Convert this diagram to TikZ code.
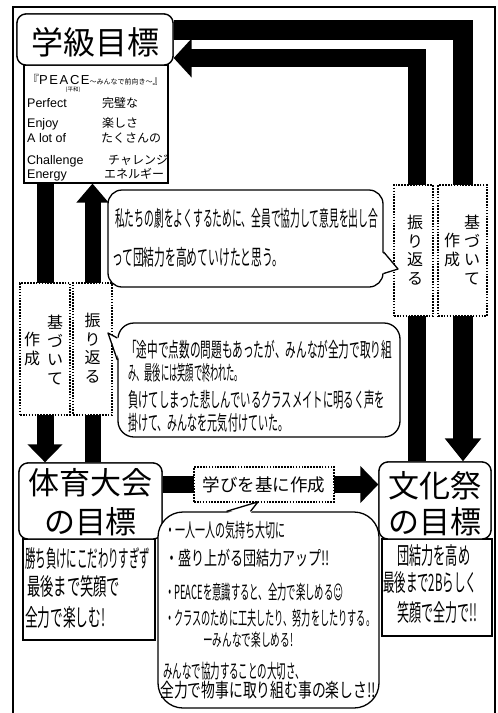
\documentclass[tikz,border=0pt]{standalone}
\usepackage{graphicx}
\usepackage{fontspec}
\setmainfont{Liberation Sans}
\newfontfamily\jp{Noto Sans CJK JP}
\newfontfamily\dejavu{DejaVu Sans}
\usetikzlibrary{arrows.meta,calc}
\newcommand\hw[6]{\node[anchor=west,inner sep=0pt] (#1) at (#2,#3) {\resizebox*{#4pt}{#5pt}{\jp #6}};}
\tikzset{
  bar/.style={line width=#1, draw=black, line cap=butt, line join=miter},
  frame/.style={draw=black, line width=1.5pt},
  titlebox/.style={draw=black, line width=1.3pt, fill=white, rounded corners=9pt, inner sep=0pt},
  plainbox/.style={draw=black, line width=1.1pt, fill=white, inner sep=0pt},
  dotbox/.style={draw=black, line width=1.7pt, dash pattern=on 1.6pt off 1.3pt, fill=white, inner sep=0pt},
  bubble/.style={draw=black, line width=1.3pt, fill=white, inner sep=0pt},
  bigtitle/.style={inner sep=0pt, font=\jp\fontsize{31}{31}\selectfont},
  vtext/.style={inner sep=0pt, align=center, font=\jp\fontsize{16}{18.5}\selectfont},
  engtext/.style={anchor=base west, inner sep=0pt, font=\fontsize{12.5}{12.5}\selectfont},
  jptext/.style={anchor=base west, inner sep=0pt, font=\jp\fontsize{12}{12}\selectfont},
}
\begin{document}
\begin{tikzpicture}[x=1pt,y=-1pt]
\useasboundingbox (0,0) rectangle (498,713);
\fill[white] (0,0) rectangle (498,713);
% outer frame
\draw[frame] (13,713) -- (13,7) -- (495,7) -- (495,713);

% boxes (shapes first, to get anchors)
\node[plainbox, minimum width=144pt, minimum height=118pt] (peace) at (96,124) {};
\node[titlebox, minimum width=156pt, minimum height=51pt] (kyu) at (95,39.5) {};
\node[plainbox, minimum width=132pt, minimum height=101pt] (taiikutxt) at (89,589.5) {};
\node[plainbox, minimum width=110pt, minimum height=97pt] (bunkatxt) at (437,587.5) {};
\node[titlebox, minimum width=143pt, minimum height=76pt] (taiiku) at (90.5,501) {};
\node[titlebox, minimum width=112pt, minimum height=77pt] (bunka) at (435,500.5) {};

% coordinates for arrow corners
\coordinate (oc) at (463,30);
\coordinate (ic) at (417,58);
\coordinate (ld) at (45,300);
\coordinate (lu) at (92.5,300);
\coordinate (hc) at (270,484.5);

% thick arrows
\draw[bar=20pt, -{Triangle[length=23pt,width=35pt]}] (kyu.east |- oc) -- (oc) -- (bunka.north -| oc);
\draw[bar=18pt, -{Triangle[length=18pt,width=38pt]}] (bunka.north -| ic) -- (ic) -- (kyu.east |- ic);
\draw[bar=17pt, -{Triangle[length=18pt,width=34pt]}] (peace.south -| ld) -- (taiiku.north -| ld);
\draw[bar=16pt, -{Triangle[length=19pt,width=31pt]}] (taiiku.north -| lu) -- (peace.south -| lu);
\draw[bar=17pt, -{Triangle[length=18pt,width=36pt]}] (taiiku.east |- hc) -- (bunka.west |- hc);

% redraw boxes over arrow ends
\node[titlebox, minimum width=156pt, minimum height=51pt] (kyu2) at (kyu) {};
\node[titlebox, minimum width=143pt, minimum height=76pt] (taiiku2) at (taiiku) {};
\node[titlebox, minimum width=112pt, minimum height=77pt] (bunka2) at (bunka) {};

% titles
\node[inner sep=0pt, font=\jp\fontsize{32}{32}\selectfont] (kyut) at (95,42) {学級目標};
\node[bigtitle] (taiikut1) at (90.5,483) {体育大会};
\node[bigtitle] (taiikut2) at (90.5,522) {の目標};
\node[bigtitle] (bunkat1) at (435,486) {文化祭};
\node[bigtitle] (bunkat2) at (435,522) {の目標};

% PEACE box content
\node[anchor=base west, inner sep=0pt] (ptitle) at (27,84) {{\jp\fontsize{12}{12}\selectfont 『}{\fontsize{13}{13}\selectfont P\hspace{1.6pt}E\hspace{1.6pt}A\hspace{1.6pt}C\hspace{1.6pt}E}{\jp\fontsize{7}{7}\selectfont ～みんなで前向き～}{\jp\fontsize{11}{11}\selectfont 』}};
\node[inner sep=0pt, font=\jp\fontsize{5.5}{5.5}\selectfont] (heiwa) at (73,89.5) {(平和)};
\node[engtext] (e1) at (27,107.5) {Perfect};
\node[engtext] (e2) at (27,127) {Enjoy};
\node[engtext] (e3) at (27,142) {A lot of};
\node[engtext] (e4) at (27,164) {Challenge};
\node[engtext] (e5) at (27,178) {Energy};
\node[jptext] (j1) at (102,107.5) {完璧な};
\node[jptext] (j2) at (102,127) {楽しさ};
\node[jptext] (j3) at (101,142) {たくさんの};
\node[jptext] (j4) at (108,164) {チャレンジ};
\node[jptext] (j5) at (104,178) {エネルギー};

% dotted labels
\node[dotbox, minimum width=50pt, minimum height=132pt] (kiL) at (45,349) {};
\node[dotbox, minimum width=39pt, minimum height=132pt] (fuL) at (92.5,349) {};
\node[dotbox, minimum width=39pt, minimum height=131pt] (fuR) at (413.5,250.5) {};
\node[dotbox, minimum width=49pt, minimum height=131pt] (kiR) at (462.5,250.5) {};
\node[dotbox, minimum width=140pt, minimum height=35pt] (manabi) at (264,484.5) {};
\node[inner sep=0pt, font=\jp\fontsize{17.5}{17.5}\selectfont] (manabit) at (manabi) {学びを基に作成};
\node[vtext] (kiLa) at (55,350) {基\\づ\\い\\て};
\node[vtext] (kiLb) at (32,349) {作\\成};
\node[vtext] (fuLa) at (92.5,348) {振\\り\\返\\る};
\node[vtext] (fuRa) at (415,250) {振\\り\\返\\る};
\node[vtext] (kiRa) at (472,250) {基\\づ\\い\\て};
\node[vtext] (kiRb) at (452,250) {作\\成};

% speech bubbles
\node[bubble, rounded corners=14pt, minimum width=275pt, minimum height=97pt] (b1) at (245.5,238.5) {};
\coordinate (b1tip) at (398,269);
\fill[white] ($(b1.east)+(-2,13.5)$) -- (b1tip) -- ($(b1.east)+(-2,35)$) -- cycle;
\draw[line width=1.3pt, line join=round] ($(b1.east)+(0,13.5)$) -- (b1tip) -- ($(b1.east)+(0,35)$);

\node[bubble, rounded corners=16pt, minimum width=282pt, minimum height=114pt] (b2) at (259,380) {};
\coordinate (b2tip) at (108,333);
\fill[white] ($(b2.west)+(2,-42)$) -- (b2tip) -- ($(b2.west)+(2,-20)$) -- cycle;
\draw[line width=1.3pt, line join=round] ($(b2.west)+(0,-42)$) -- (b2tip) -- ($(b2.west)+(0,-20)$);

\node[bubble, rounded corners=25pt, minimum width=221pt, minimum height=196pt] (b3) at (268.5,610) {};
\coordinate (b3tip) at ($(manabi.south)+(-6,-1)$);
\fill[white] ($(b3.north)+(-42,2)$) -- (b3tip) -- ($(b3.north)+(-18,2)$) -- cycle;
\draw[line width=1.3pt, line join=round] ($(b3.north)+(-42,0)$) -- (b3tip) -- ($(b3.north)+(-18,0)$);

% bubble texts
\hw{t11}{115}{218}{263}{20}{私たちの劇をよくするために、全員で協力して意見を出し合}
\hw{t12}{112}{257}{171}{20}{って団結力を高めていけたと思う。}
\hw{t21}{126}{350}{266}{19}{「途中で点数の問題もあったが、みんなが全力で取り組}
\hw{t22}{128}{373}{115}{19}{み、最後には笑顔で終われた。}
\hw{t23}{128}{400}{257}{19}{負けてしまった悲しんでいるクラスメイトに明るく声を}
\hw{t24}{128}{423}{160}{19}{掛けて、みんなを元気付けていた。}
\hw{t31}{165}{530}{120}{18}{・一人一人の気持ち大切に}
\hw{t32}{165}{558}{165}{18}{・盛り上がる団結力アップ!!}
\hw{t33}{165}{592}{178}{18}{・PEACEを意識すると、全力で楽しめる\raisebox{0pt}[0pt][0pt]{\dejavu ☺}}
\hw{t34}{165}{618}{210}{18}{・クラスのために工夫したり、努力をしたりする。}
\hw{t35}{203}{640}{90}{16}{ーみんなで楽しめる!}
\hw{t36}{163}{671}{142}{18}{みんなで協力することの大切さ、}
\hw{t37}{160}{690}{216}{18}{全力で物事に取り組む事の楽しさ!!}

% goal texts
\hw{t41}{25}{558}{125}{22}{勝ち負けにこだわりすぎず}
\hw{t42}{27}{586}{93}{22}{最後まで笑顔で}
\hw{t43}{25}{617}{80}{22}{全力で楽しむ!}
\hw{t51}{397}{555}{73}{22}{団結力を高め}
\hw{t52}{383}{582}{94}{22}{最後まで2Bらしく}
\hw{t53}{397}{612}{80}{22}{笑顔で全力で!!}
\end{tikzpicture}
\end{document}
